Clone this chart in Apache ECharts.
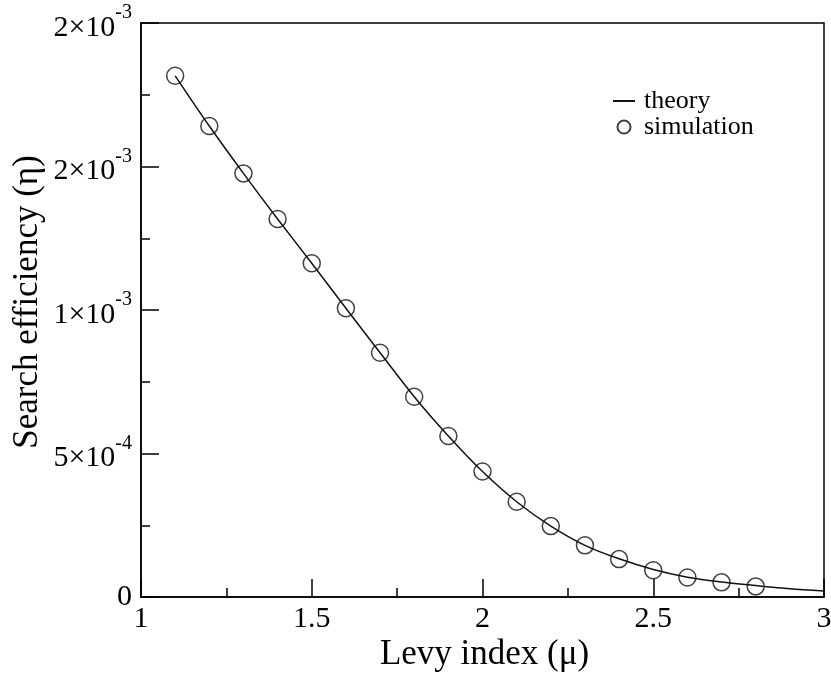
<!DOCTYPE html>
<html>
<head>
<meta charset="utf-8">
<script src="https://cdn.jsdelivr.net/npm/echarts@6/dist/echarts.min.js"></script>
<style>
  html, body { margin: 0; padding: 0; background: #fff; }
  #chart { width: 831px; height: 673px; }
</style>
</head>
<body>
<div id="chart"></div>
<script>
// Levy index values of the simulation runs and their measured efficiency
const simMu = [1.1, 1.2, 1.3, 1.4, 1.5, 1.6, 1.7, 1.8, 1.9, 2.0, 2.1, 2.2, 2.3, 2.4, 2.5, 2.6, 2.7, 2.8];
const simEta = [1.816e-3, 1.641e-3, 1.476e-3, 1.317e-3, 1.163e-3, 1.006e-3, 0.851e-3, 0.698e-3,
                0.561e-3, 0.437e-3, 0.332e-3, 0.247e-3, 0.180e-3, 0.132e-3, 0.093e-3, 0.068e-3,
                0.051e-3, 0.037e-3];

// Theoretical curve
const theoryMu = [1.1, 1.2, 1.3, 1.4, 1.5, 1.6, 1.7, 1.8, 1.9, 2.0, 2.1, 2.2, 2.3, 2.4, 2.5, 2.6, 2.7, 2.8, 2.9, 3.0];
const theoryEta = [1.816e-3, 1.641e-3, 1.476e-3, 1.317e-3, 1.163e-3, 1.006e-3, 0.851e-3, 0.698e-3,
                   0.561e-3, 0.437e-3, 0.332e-3, 0.247e-3, 0.180e-3, 0.133e-3, 0.096e-3, 0.069e-3,
                   0.052e-3, 0.040e-3, 0.029e-3, 0.021e-3];

// Axis tick labels
const xTickValues = [1, 1.5, 2, 2.5, 3];
const xTickLabels = ['1', '1.5', '2', '2.5', '3'];
const yTickValues = [0, 5e-4, 1e-3, 1.5e-3, 2e-3];
const yTickMantissa = ['0', '5\u00d710', '1\u00d710', '2\u00d710', '2\u00d710'];
const yTickExponent = ['', '-4', '-3', '-3', '-3'];

const serif = '"Liberation Serif", "DejaVu Serif", serif';

function pickIndex(values, v) {
  let best = 0;
  for (let i = 1; i < values.length; i++) {
    if (Math.abs(values[i] - v) < Math.abs(values[best] - v)) best = i;
  }
  return best;
}

const chart = echarts.init(document.getElementById('chart'), null, { renderer: 'canvas' });

chart.setOption({
  backgroundColor: '#ffffff',
  animation: false,
  grid: {
    left: 141, right: 7, top: 23, bottom: 76,
    outerBoundsMode: 'none',
    containLabel: false,
    show: true, borderColor: '#000', borderWidth: 1.5, backgroundColor: 'transparent'
  },
  legend: {
    orient: 'vertical',
    left: 612,
    top: 88,
    padding: 0,
    itemGap: 0,
    itemWidth: 22,
    itemHeight: 13,
    selectedMode: false,
    textStyle: { fontFamily: serif, fontSize: 26, color: '#000', lineHeight: 25, padding: [0, 0, 0, 4] },
    data: ['theory', 'simulation']
  },
  xAxis: {
    type: 'value',
    min: 1, max: 3, interval: 0.5,
    name: 'Levy index (\u03bc)',
    nameLocation: 'middle',
    nameMoveOverlap: false,
    nameGap: 40,
    nameTextStyle: { fontFamily: serif, fontSize: 35, color: '#000', padding: [0, 0, 0, 4] },
    axisLine: { show: true, lineStyle: { color: '#000', width: 1.5 } },
    axisTick: { show: true, inside: true, length: 18, lineStyle: { color: '#000', width: 1.5 } },
    minorTick: { show: true, splitNumber: 2, length: 9, lineStyle: { color: '#000', width: 1.5 } },
    splitLine: { show: false },
    axisLabel: {
      margin: 7,
      fontFamily: serif, fontSize: 30, color: '#000',
      formatter: v => xTickLabels[pickIndex(xTickValues, v)]
    }
  },
  yAxis: {
    type: 'value',
    min: 0, max: 2e-3, interval: 5e-4,
    name: 'Search efficiency (\u03b7)',
    nameLocation: 'middle',
    nameMoveOverlap: false,
    nameGap: 96,
    nameTextStyle: { fontFamily: serif, fontSize: 35, color: '#000', padding: [0, 0, 0, 16] },
    axisLine: { show: true, lineStyle: { color: '#000', width: 1.5 } },
    axisTick: { show: true, inside: true, length: 18, lineStyle: { color: '#000', width: 1.5 } },
    minorTick: { show: true, splitNumber: 2, length: 9, lineStyle: { color: '#000', width: 1.5 } },
    splitLine: { show: false },
    axisLabel: {
      margin: 9,
      fontFamily: serif, fontSize: 30, color: '#000',
      formatter: v => {
        const i = pickIndex(yTickValues, v);
        if (!yTickExponent[i]) return '{z|' + yTickMantissa[i] + '}';
        return '{h|\u2009}{m|' + yTickMantissa[i] + '}{s|' + yTickExponent[i] + '}';
      },
      rich: {
        z: { fontFamily: serif, fontSize: 30, color: '#000', lineHeight: 30 },
        h: { fontSize: 1, lineHeight: 40 },
        m: { fontFamily: serif, fontSize: 30, color: '#000', lineHeight: 24, verticalAlign: 'bottom' },
        s: { fontFamily: serif, fontSize: 20, color: '#000', lineHeight: 28, verticalAlign: 'top' }
      }
    }
  },
  series: [
    {
      name: 'theory',
      type: 'line',
      data: theoryMu.map((m, i) => [m, theoryEta[i]]),
      smooth: 0.3,
      symbol: 'line',
      showSymbol: false,
      lineStyle: { color: '#111', width: 1.5 },
      itemStyle: { color: '#111', borderWidth: 0 },
      emphasis: { disabled: true },
      z: 2
    },
    {
      name: 'simulation',
      type: 'scatter',
      data: simMu.map((m, i) => [m, simEta[i]]),
      symbol: 'circle',
      symbolSize: 17,
      itemStyle: { color: 'transparent', borderColor: '#111', borderWidth: 1.5 },
      emphasis: { disabled: true },
      z: 3
    }
  ]
});
</script>
</body>
</html>
